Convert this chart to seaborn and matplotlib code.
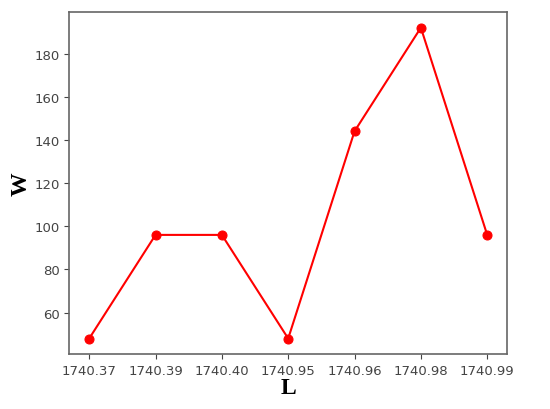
import matplotlib
matplotlib.use("Agg")
import matplotlib.pyplot as plt
import pandas as pd
import seaborn as sns

L_labels = ["1740.37", "1740.39", "1740.40", "1740.95", "1740.96", "1740.98", "1740.99"]
W_values = [48, 96, 96, 48, 144, 192, 96]

df = pd.DataFrame({"L": L_labels, "W": W_values})

sns.set_style("ticks")
plt.rcParams["font.family"] = ["DejaVu Sans"]

fig, ax = plt.subplots(figsize=(5.5, 4.1), dpi=100)
fig.subplots_adjust(left=0.126, right=0.922, top=0.968, bottom=0.134)

sns.lineplot(data=df, x="L", y="W", sort=False, color="red", marker="o",
             markersize=6.5, markeredgecolor="red", linewidth=1.5, ax=ax)

ax.set_yticks([60, 80, 100, 120, 140, 160, 180])
ax.tick_params(axis="both", labelsize=9.5, colors="#444444", length=3.5)
for s in ax.spines.values():
    s.set_color("#666666")
    s.set_linewidth(1.2)
    s.set_visible(True)

ax.set_xlabel("L", fontsize=17, fontweight="bold", family="Liberation Serif",
              color="black", labelpad=0)
ax.set_ylabel("W", fontsize=17, fontweight="bold", family="Liberation Serif",
              color="black", labelpad=2)

fig.savefig("out.png", dpi=100)
